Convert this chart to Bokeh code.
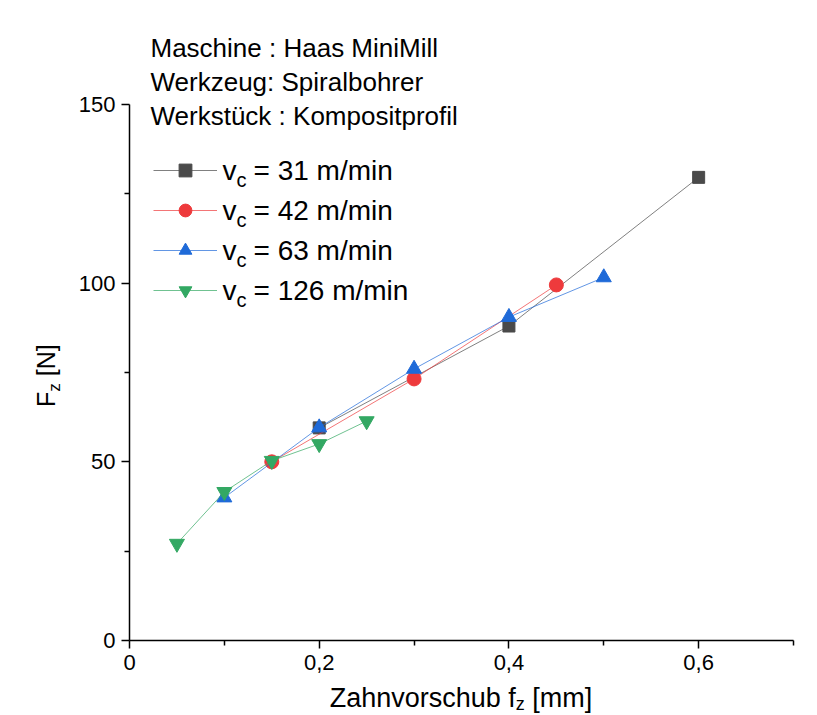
from bokeh.plotting import figure
from bokeh.models import Range1d, FixedTicker, Label, Legend, LegendItem, Div
from bokeh.layouts import row, column
from bokeh.embed import file_html
from bokeh.resources import INLINE

# ---- data ----
feed_31 = [0.2, 0.4, 0.6]
force_31 = [59.5, 88.0, 129.6]
feed_42 = [0.15, 0.3, 0.45]
force_42 = [50.0, 73.2, 99.5]
feed_63 = [0.1, 0.2, 0.3, 0.4, 0.5]
force_63 = [40.0, 59.6, 76.0, 90.5, 101.6]
feed_126 = [0.05, 0.1, 0.15, 0.2, 0.25]
force_126 = [27.1, 41.6, 50.3, 55.0, 61.4]

series_speeds = ["31 m/min", "42 m/min", "63 m/min", "126 m/min"]
x_ticks = [0, 0.2, 0.4, 0.6]
x_tick_labels = ["0", "0,2", "0,4", "0,6"]
x_minor = [0.1, 0.3, 0.5, 0.7]
y_ticks = [0, 50, 100, 150]
y_minor = [25, 75, 125]
header_lines = ["Maschine : Haas MiniMill", "Werkzeug: Spiralbohrer", "Werkstück : Kompositprofil"]
x_title = ("Zahnvorschub f", "z", " [mm]")
y_title = ("F", "z", " [N]")

FONT = "Liberation Sans"
colors = ["#4a4a4a", "#ee3a3c", "#1f6ad8", "#33a863"]
markers = ["square", "circle", "triangle", "inverted_triangle"]
sizes = [12, 14, 15, 15]

LEFT_W = 64               # width of the y-title strip
FL, FT = 129, 30          # frame left / top on the page
FW, FH = 664, 610
P_H = 683                 # height of the plot itself
XMAX, YMAX = 0.7, 170.7
P_W = 817 - LEFT_W

p = figure(frame_width=FW, frame_height=FH,
           x_range=Range1d(0, XMAX), y_range=Range1d(0, YMAX),
           output_backend="svg", toolbar_location=None,
           min_border_left=FL - LEFT_W, min_border_right=P_W - (FL - LEFT_W) - FW,
           min_border_top=FT, min_border_bottom=P_H - FT - FH)
p.grid.visible = False
p.outline_line_color = None
p.background_fill_color = "white"
p.border_fill_color = "white"

for ax in (p.xaxis[0], p.yaxis[0]):
    ax.axis_line_width = 1.5
    ax.axis_line_color = "black"
    ax.major_tick_line_color = "black"
    ax.minor_tick_line_color = "black"
    ax.major_tick_line_width = 1.5
    ax.minor_tick_line_width = 1.5
    ax.major_tick_in = 0
    ax.major_tick_out = 8
    ax.minor_tick_in = 0
    ax.minor_tick_out = 5
    ax.major_label_text_font = FONT
    ax.major_label_text_font_size = "22px"
    ax.major_label_text_color = "black"
    ax.major_label_standoff = 6

p.xaxis.ticker = FixedTicker(ticks=x_ticks, minor_ticks=x_minor)
p.xaxis.major_label_overrides = dict(zip(x_ticks, x_tick_labels))
p.xaxis.bounds = (0, XMAX)
p.yaxis.ticker = FixedTicker(ticks=y_ticks, minor_ticks=y_minor)
p.yaxis.bounds = (0, 150)

# ---- series ----
xs = [feed_31, feed_42, feed_63, feed_126]
ys = [force_31, force_42, force_63, force_126]
items = []
for x, y, c, m, s in zip(xs, ys, colors, markers, sizes):
    lr = p.line(x, y, line_color=c, line_width=1, line_alpha=0.7)
    sr = p.scatter(x, y, marker=m, size=s, fill_color=c, line_color=c)
    items.append(LegendItem(label=" ", renderers=[lr, sr]))

legend = Legend(items=items, location=(24, 334), glyph_width=64, glyph_height=32,
                label_height=32, label_width=0, spacing=8, padding=0, margin=0,
                border_line_color=None, background_fill_alpha=0,
                label_text_font_size="1px", label_standoff=0)
p.add_layout(legend)

# ---- texts inside the frame: page pixel positions -> screen units ----
FB = FT + FH


def txt(px, py, s, size):
    p.add_layout(Label(x=px - FL, y=FB - py, x_units="screen", y_units="screen",
                       text=s, text_font=FONT, text_font_size=f"{size}px",
                       text_align="left", text_baseline="middle",
                       text_color="black", level="overlay"))


for i, line in enumerate(header_lines):
    txt(150, 47 + 34.3 * i, line, 26)

for i, sp in enumerate(series_speeds):
    mid = 170 + 40 * i
    txt(222, mid, "v", 28)
    txt(236, mid + 9, "c", 20)
    txt(253, mid, "= " + sp, 28)

# ---- axis titles (with subscripts) as HTML text strips ----
SUB = "font-size:17px; vertical-align:-5px; line-height:0;"
y_html = (
    '<div style="padding-left:34px; padding-top:407px;">'
    '<div style="width:300px; transform:rotate(-90deg); transform-origin:0 0; '
    "font-family:'Liberation Sans'; font-size:25px; line-height:25px; "
    'white-space:nowrap; color:black;">'
    f'{y_title[0]}<sub style="{SUB}">{y_title[1]}</sub>{y_title[2]}</div></div>'
)
x_html = (
    f'<div style="padding-left:{FL - LEFT_W}px;">'
    f'<div style="width:{FW}px; text-align:center; '
    "font-family:'Liberation Sans'; font-size:27px; line-height:31px; "
    'white-space:nowrap; color:black;">'
    f'{x_title[0]}<sub style="font-size:18px; vertical-align:-3px; line-height:0;">'
    f'{x_title[1]}</sub>{x_title[2]}</div></div>'
)
y_div = Div(text=y_html, width=LEFT_W, height=715, margin=0,
            styles={"overflow": "hidden"})
x_div = Div(text=x_html, width=P_W, height=715 - P_H, margin=0,
            styles={"overflow": "hidden"})

layout = row(y_div, column(p, x_div, spacing=0), spacing=0)

open("out.html", "w").write(file_html(layout, INLINE))
